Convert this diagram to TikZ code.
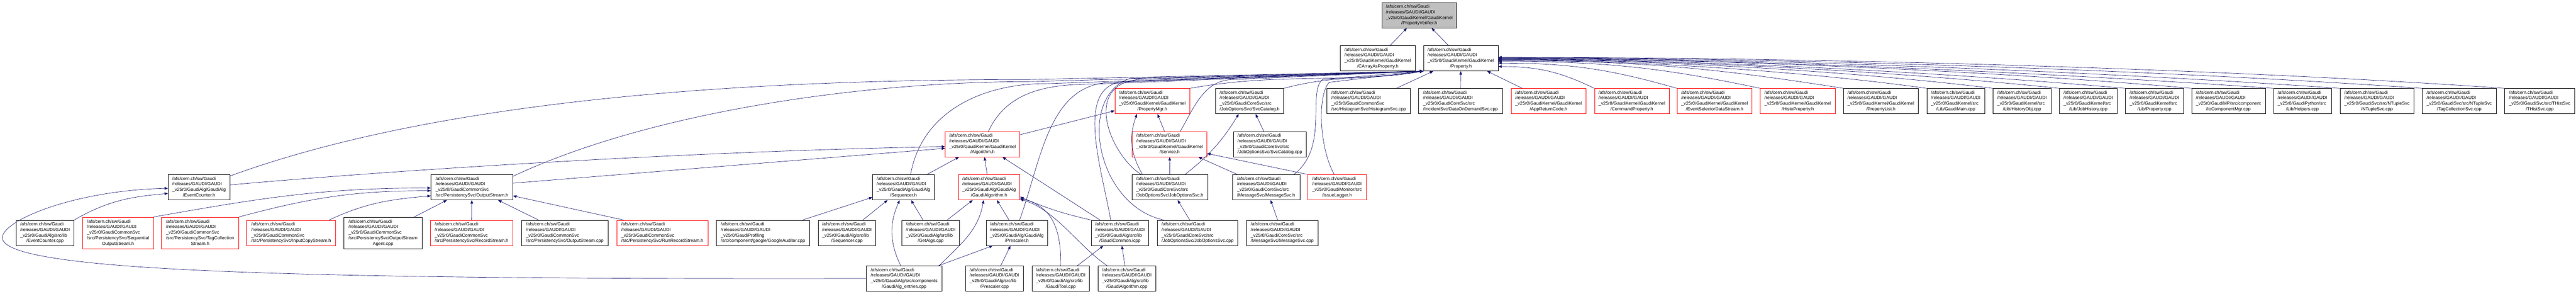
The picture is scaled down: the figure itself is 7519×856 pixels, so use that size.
\documentclass[tikz,border=0pt]{standalone}
\usepackage{fontspec}
\newfontfamily\dotfont{Liberation Sans}
\usetikzlibrary{arrows.meta}
\definecolor{edgeblue}{HTML}{191970}
\definecolor{nodegray}{HTML}{BFBFBF}
\newcommand{\gaudifile}[2]{\begin{tabular}{@{}l@{}}/afs/cern.ch/sw/Gaudi\\/releases/GAUDI/GAUDI\\\_v25r0/#1\\\multicolumn{1}{@{}c@{}}{#2}\end{tabular}}
\tikzset{
  file/.style={draw=black,line width=1pt,inner sep=0pt,minimum height=74pt,
    font=\dotfont\fontsize{13.2}{16.1}\selectfont},
  redfile/.style={file,draw=red},
  topfile/.style={file,fill=nodegray},
  tall/.style={minimum height=92pt},
  inc/.style={->,draw=edgeblue,line width=1pt},
  >={Triangle[length=10pt,width=8pt]}
}

\begin{document}
\begin{tikzpicture}[x=1pt,y=1pt]
        \useasboundingbox (0,0) rectangle (7519,-856) ;
        % top and second row
        \node[topfile,minimum width=217pt] (verifier) at (4142.5,-44.5) {\gaudifile{GaudiKernel/GaudiKernel}{/PropertyVerifier.h}} ;
        \node[file,minimum width=219pt] (carray) at (4021.5,-170) {\gaudifile{GaudiKernel/GaudiKernel}{/CArrayAsProperty.h}} ;
        \node[file,minimum width=218pt] (property) at (4264,-170) {\gaudifile{GaudiKernel/GaudiKernel}{/Property.h}} ;
        % third row
        \node[redfile,minimum width=219pt] (propmgr) at (3363.5,-295) {\gaudifile{GaudiKernel/GaudiKernel}{/PropertyMgr.h}} ;
        \node[file,minimum width=199pt] (svccatalogh) at (3647.5,-295) {\gaudifile{GaudiCoreSvc/src}{/JobOptionsSvc/SvcCatalog.h}} ;
        \node[file,minimum width=244pt] (histosvccpp) at (3995,-295) {\gaudifile{GaudiCommonSvc}{/src/HistogramSvc/HistogramSvc.cpp}} ;
        \node[file,minimum width=244pt] (dodsvc) at (4263,-295) {\gaudifile{GaudiCoreSvc/src}{/IncidentSvc/DataOnDemandSvc.cpp}} ;
        \node[redfile,minimum width=218pt] (appreturn) at (4520,-295) {\gaudifile{GaudiKernel/GaudiKernel}{/AppReturnCode.h}} ;
        \node[redfile,minimum width=218pt] (cmdprop) at (4763,-295) {\gaudifile{GaudiKernel/GaudiKernel}{/CommandProperty.h}} ;
        \node[redfile,minimum width=219pt] (evtseldata) at (5004.5,-295) {\gaudifile{GaudiKernel/GaudiKernel}{/EventSelectorDataStream.h}} ;
        \node[redfile,minimum width=219pt] (histoprop) at (5247.5,-295) {\gaudifile{GaudiKernel/GaudiKernel}{/HistoProperty.h}} ;
        \node[file,minimum width=218pt] (proplist) at (5490,-295) {\gaudifile{GaudiKernel/GaudiKernel}{/PropertyList.h}} ;
        \node[file,minimum width=169pt] (gaudimain) at (5708.5,-295) {\gaudifile{GaudiKernel/src}{/Lib/GaudiMain.cpp}} ;
        \node[file,minimum width=170pt] (historyobj) at (5902,-295) {\gaudifile{GaudiKernel/src}{/Lib/HistoryObj.cpp}} ;
        \node[file,minimum width=169pt] (jobhistory) at (6095.5,-295) {\gaudifile{GaudiKernel/src}{/Lib/JobHistory.cpp}} ;
        \node[file,minimum width=169pt] (propertycpp) at (6288.5,-295) {\gaudifile{GaudiKernel/src}{/Lib/Property.cpp}} ;
        \node[file,minimum width=215pt] (iocompmgr) at (6504.5,-295) {\gaudifile{GaudiMP/src/component}{/IoComponentMgr.cpp}} ;
        \node[file,minimum width=169pt] (helpers) at (6720.5,-295) {\gaudifile{GaudiPython/src}{/Lib/Helpers.cpp}} ;
        \node[file,minimum width=216pt] (ntuplesvc) at (6938,-295) {\gaudifile{GaudiSvc/src/NTupleSvc}{/NTupleSvc.cpp}} ;
        \node[file,minimum width=216pt] (tagcolsvc) at (7178,-295) {\gaudifile{GaudiSvc/src/NTupleSvc}{/TagCollectionSvc.cpp}} ;
        \node[file,minimum width=204pt] (thistsvc) at (7413,-295) {\gaudifile{GaudiSvc/src/THistSvc}{/THistSvc.cpp}} ;
        % fourth row
        \node[redfile,minimum width=218pt] (algorithmh) at (2868,-420.5) {\gaudifile{GaudiKernel/GaudiKernel}{/Algorithm.h}} ;
        \node[redfile,minimum width=218pt] (serviceh) at (3414,-420.5) {\gaudifile{GaudiKernel/GaudiKernel}{/Service.h}} ;
        \node[file,minimum width=213pt] (svccatalogcpp) at (3706.5,-420.5) {\gaudifile{GaudiCoreSvc/src}{/JobOptionsSvc/SvcCatalog.cpp}} ;
        % fifth row
        \node[file,minimum width=180pt] (eventcounterh) at (581,-546) {\gaudifile{GaudiAlg/GaudiAlg}{/EventCounter.h}} ;
        \node[file,minimum width=239pt] (outputstreamh) at (1377.5,-546) {\gaudifile{GaudiCommonSvc}{/src/PersistencySvc/OutputStream.h}} ;
        \node[file,minimum width=180pt] (sequencerh) at (2637,-546) {\gaudifile{GaudiAlg/GaudiAlg}{/Sequencer.h}} ;
        \node[redfile,minimum width=180pt] (gaudialgh) at (2887,-546) {\gaudifile{GaudiAlg/GaudiAlg}{/GaudiAlgorithm.h}} ;
        \node[file,minimum width=221pt] (jobosvch) at (3414.5,-546) {\gaudifile{GaudiCoreSvc/src}{/JobOptionsSvc/JobOptionsSvc.h}} ;
        \node[file,minimum width=197pt] (messagesvch) at (3695.5,-546) {\gaudifile{GaudiCoreSvc/src}{/MessageSvc/MessageSvc.h}} ;
        \node[redfile,minimum width=171pt] (issuelogger) at (3902.5,-546) {\gaudifile{GaudiMonitor/src}{/IssueLogger.h}} ;
        % sixth row
        \node[file,minimum width=169pt] (eventcountercpp) at (131.5,-679) {\gaudifile{GaudiAlg/src/lib}{/EventCounter.cpp}} ;
        \node[redfile,tall,minimum width=207pt] (seqoutstream) at (344.5,-679) {\gaudifile{GaudiCommonSvc\\/src/PersistencySvc/Sequential}{OutputStream.h}} ;
        \node[redfile,tall,minimum width=226pt] (tagcolstream) at (584,-679) {\gaudifile{GaudiCommonSvc\\/src/PersistencySvc/TagCollection}{Stream.h}} ;
        \node[redfile,minimum width=260pt] (inputcopy) at (850,-679) {\gaudifile{GaudiCommonSvc}{/src/PersistencySvc/InputCopyStream.h}} ;
        \node[file,tall,minimum width=228pt] (outstreamagent) at (1118,-679) {\gaudifile{GaudiCommonSvc\\/src/PersistencySvc/OutputStream}{Agent.cpp}} ;
        \node[redfile,minimum width=241pt] (recordstream) at (1376.5,-679) {\gaudifile{GaudiCommonSvc}{/src/PersistencySvc/RecordStream.h}} ;
        \node[file,minimum width=253pt] (outputstreamcpp) at (1648.5,-679) {\gaudifile{GaudiCommonSvc}{/src/PersistencySvc/OutputStream.cpp}} ;
        \node[redfile,minimum width=266pt] (runrecordstream) at (1933,-679) {\gaudifile{GaudiCommonSvc}{/src/PersistencySvc/RunRecordStream.h}} ;
        \node[file,minimum width=272pt] (googleauditor) at (2227,-679) {\gaudifile{GaudiProfiling}{/src/component/google/GoogleAuditor.cpp}} ;
        \node[file,minimum width=168pt] (sequencercpp) at (2472,-679) {\gaudifile{GaudiAlg/src/lib}{/Sequencer.cpp}} ;
        \node[file,minimum width=169pt] (getalgs) at (2716.5,-679) {\gaudifile{GaudiAlg/src/lib}{/GetAlgs.cpp}} ;
        \node[file,minimum width=180pt] (prescalerh) at (2968,-679) {\gaudifile{GaudiAlg/GaudiAlg}{/Prescaler.h}} ;
        \node[file,minimum width=168pt] (gaudicommon) at (3269,-679) {\gaudifile{GaudiAlg/src/lib}{/GaudiCommon.icpp}} ;
        \node[file,minimum width=235pt] (jobosvccpp) at (3495.5,-679) {\gaudifile{GaudiCoreSvc/src}{/JobOptionsSvc/JobOptionsSvc.cpp}} ;
        \node[file,minimum width=209pt] (messagesvccpp) at (3742.5,-679) {\gaudifile{GaudiCoreSvc/src}{/MessageSvc/MessageSvc.cpp}} ;
        % bottom row
        \node[file,minimum width=220pt] (gaudialgentries) at (2639,-812) {\gaudifile{GaudiAlg/src/components}{/GaudiAlg\_entries.cpp}} ;
        \node[file,minimum width=169pt] (prescalercpp) at (2902.5,-812) {\gaudifile{GaudiAlg/src/lib}{/Prescaler.cpp}} ;
        \node[file,minimum width=168pt] (gauditoolcpp) at (3096,-812) {\gaudifile{GaudiAlg/src/lib}{/GaudiTool.cpp}} ;
        \node[file,minimum width=168pt] (gaudialgcpp) at (3289,-812) {\gaudifile{GaudiAlg/src/lib}{/GaudiAlgorithm.cpp}} ;

        % bends of the long connectors
        \coordinate (loopleft) at (8,-686) ;
        \coordinate (bus1) at (3000,-232) ;
        \coordinate (bus2) at (3000,-238) ;
        \coordinate (bus3) at (3050,-244) ;
        \coordinate (bus4) at (3200,-245) ;
        \coordinate (bus5) at (3250,-240) ;
        \coordinate (bus6) at (3290,-238) ;
        \coordinate (bus7) at (3300,-228) ;
        \coordinate (bus8) at (3320,-232) ;
        \coordinate (bus9) at (3600,-232) ;
        \coordinate (bus10) at (3860,-232) ;
        \coordinate (bus11) at (3880,-240) ;

        % PropertyVerifier.h
        \draw[inc] (carray) -- (verifier) ;
        \draw[inc] (property) -- (verifier) ;
        % Property.h, right hand side
        \draw[inc] (histosvccpp) -- (property) ;
        \draw[inc] (dodsvc) -- (property) ;
        \draw[inc] (appreturn) -- (property) ;
        \draw[inc] (cmdprop.north west) to[out=154,in=0] ([yshift=-24pt]property.east) ;
        \draw[inc] (evtseldata.north west) to[out=164,in=0] ([yshift=-14pt]property.east) ;
        \draw[inc] (histoprop.north west) to[out=168,in=0] ([yshift=-9pt]property.east) ;
        \draw[inc] (proplist.north west) to[out=171,in=0] ([yshift=-7pt]property.east) ;
        \draw[inc] (gaudimain.north west) .. controls +(-371,52) and +(375,0) .. ([yshift=-5pt]property.east) ;
        \draw[inc] (historyobj.north west) .. controls +(-430,53) and +(433,0) .. ([yshift=-4pt]property.east) ;
        \draw[inc] (jobhistory.north west) .. controls +(-488,51) and +(491,0) .. ([yshift=-3pt]property.east) ;
        \draw[inc] (propertycpp.north west) .. controls +(-547,48) and +(549,0) .. ([yshift=-2pt]property.east) ;
        \draw[inc] (iocompmgr.north west) .. controls +(-605,53) and +(607,0) .. ([yshift=-1pt]property.east) ;
        \draw[inc] (helpers.north west) .. controls +(-677,47) and +(679,0) .. (property.east) ;
        \draw[inc] (ntuplesvc.north west) .. controls +(-735,51) and +(737,0) .. ([yshift=1pt]property.east) ;
        \draw[inc] (tagcolsvc.north west) .. controls +(-807,56) and +(809,0) .. ([yshift=2pt]property.east) ;
        \draw[inc] (thistsvc.north west) .. controls +(-879,61) and +(881,0) .. ([yshift=3pt]property.east) ;
        % Property.h, left hand side
        \draw[inc] (propmgr.north east) to[out=10,in=188] (property.south west) ;
        \draw[inc] (svccatalogh.north east) to[out=15,in=190] (property.south west) ;
        \draw[inc] (eventcounterh.20) .. controls +(661,241) and +(-704,0) .. (bus1) -- (property.south west) ;
        \draw[inc] (outputstreamh.15) .. controls +(415,194) and +(-458,0) .. (bus2) -- (property.south west) ;
        \draw[inc] ([xshift=21pt]sequencerh.north) to[out=80,in=180] (bus3) -- (property.south west) ;
        \draw[inc] ([xshift=17pt]algorithmh.north) to[out=65,in=180] (bus4) -- (property.south west) ;
        \draw[inc] ([xshift=8pt]prescalerh.north) to[out=70,in=180] (bus5) -- (property.south west) ;
        \draw[inc] ([xshift=-27pt]gaudicommon.north) to[out=100,in=180] (bus6) -- (property.south west) ;
        \draw[inc] ([xshift=-98pt]jobosvccpp.north) .. controls (3200,-600) and (3140,-280) .. (bus7) -- (property.south west) ;
        \draw[inc] ([xshift=-84pt]jobosvch.north) .. controls (3240,-450) and (3160,-250) .. (bus8) -- (property.south west) ;
        \draw[inc] ([xshift=31pt]serviceh.north) to[out=60,in=180] (bus9) -- (property.south west) ;
        \draw[inc] ([xshift=-18pt]messagesvch.north east) .. controls (3880,-430) and (3815,-270) .. (bus10) -- (property.south west) ;
        \draw[inc] ([xshift=-8pt]issuelogger.north) .. controls (3850,-430) and (3845,-275) .. (bus11) -- (property.south west) ;
        % PropertyMgr.h and SvcCatalog.h
        \draw[inc] (algorithmh) -- (propmgr) ;
        \draw[inc] (serviceh) -- (propmgr) ;
        \draw[inc] ([xshift=-80pt]jobosvch.north) to[bend left=25] ([xshift=-45pt]propmgr.south) ;
        \draw[inc] (jobosvch.40) to[bend right=10] ([xshift=-32pt]svccatalogh.south) ;
        \draw[inc] (svccatalogcpp) -- (svccatalogh) ;
        % Service.h
        \draw[inc] (jobosvch) -- (serviceh) ;
        \draw[inc] (messagesvch) -- (serviceh) ;
        \draw[inc] (issuelogger.north west) -- ([yshift=-27pt]serviceh.east) ;
        \draw[inc] (jobosvccpp) -- (jobosvch) ;
        \draw[inc] (messagesvccpp) -- (messagesvch) ;
        % Algorithm.h
        \draw[inc] ([yshift=7pt]eventcounterh.east) .. controls +(625,55) and +(-627,-11) .. ([yshift=-7pt]algorithmh.west) ;
        \draw[inc] ([yshift=12pt]outputstreamh.east) -- ([yshift=-12pt]algorithmh.west) ;
        \draw[inc] (sequencerh) -- (algorithmh) ;
        \draw[inc] (gaudialgh) -- (algorithmh) ;
        \draw[inc] (gaudicommon) -- (algorithmh) ;
        % OutputStream.h
        \draw[inc] (seqoutstream.north east) to[out=10,in=180] ([yshift=-2pt]outputstreamh.west) ;
        \draw[inc] (tagcolstream.north east) to[out=15,in=180] ([yshift=-10pt]outputstreamh.west) ;
        \draw[inc] ([xshift=-20pt]inputcopy.north east) to[out=25,in=185] ([yshift=-25pt]outputstreamh.west) ;
        \draw[inc] (outstreamagent) -- (outputstreamh) ;
        \draw[inc] (recordstream) -- (outputstreamh) ;
        \draw[inc] (outputstreamcpp) -- (outputstreamh) ;
        \draw[inc] ([xshift=21pt]runrecordstream.north west) -- ([yshift=-25pt]outputstreamh.east) ;
        % EventCounter.h
        \draw[inc] (eventcountercpp.north east) to[out=30,in=185] ([yshift=-18pt]eventcounterh.west) ;
        \draw[inc] (gaudialgentries.west) .. controls (800,-815) and (-30,-790) .. (loopleft)
          .. controls (27,-634) and (230,-555) .. ([yshift=-3pt]eventcounterh.west) ;
        % Sequencer.h
        \draw[inc] (googleauditor) -- (sequencerh) ;
        \draw[inc] (sequencercpp) -- (sequencerh) ;
        \draw[inc] (getalgs) -- (sequencerh) ;
        \draw[inc] ([xshift=-10pt]gaudialgentries.north) to[bend left=25] ([xshift=-11pt]sequencerh.south) ;
        % GaudiAlgorithm.h
        \draw[inc] (getalgs) -- (gaudialgh) ;
        \draw[inc] ([xshift=-8pt]gaudialgentries.north east) to[out=45,in=-100] ([xshift=-16pt]gaudialgh.south) ;
        \draw[inc] (prescalerh) -- (gaudialgh) ;
        \draw[inc] (gaudicommon.north west) to[bend left=5] ([yshift=-28pt]gaudialgh.east) ;
        \draw[inc] (gauditoolcpp.north) .. controls (3098,-650) and (3060,-600) .. ([yshift=-32pt]gaudialgh.east) ;
        \draw[inc] ([xshift=27pt]gaudialgcpp.north west) .. controls (3150,-720) and (3080,-610) .. ([yshift=-35pt]gaudialgh.east) ;
        % Prescaler.h and GaudiCommon.icpp
        \draw[inc] ([xshift=-10pt]gaudialgentries.north east) -- ([xshift=20pt]prescalerh.south west) ;
        \draw[inc] (prescalercpp) -- (prescalerh) ;
        \draw[inc] (gauditoolcpp) -- (gaudicommon) ;
        \draw[inc] (gaudialgcpp) -- (gaudicommon) ;
      \end{tikzpicture}
\end{document}
